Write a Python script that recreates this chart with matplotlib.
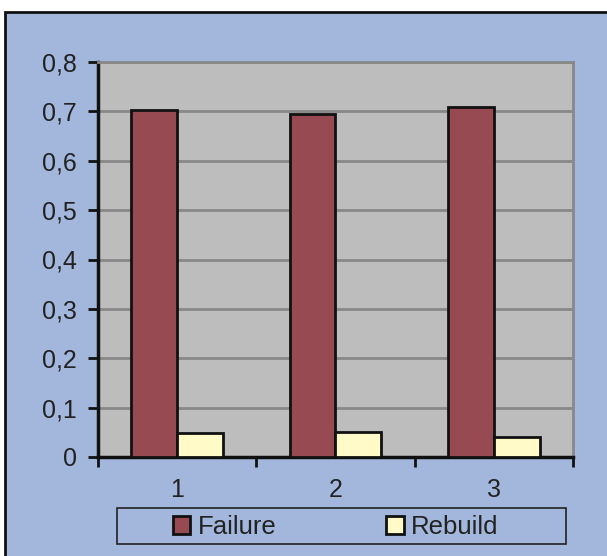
import matplotlib
matplotlib.use("Agg")
import matplotlib.pyplot as plt
import numpy as np
from matplotlib.patches import Rectangle
from matplotlib.ticker import FuncFormatter, FixedLocator

categories = ["1", "2", "3"]
failure = [0.703, 0.695, 0.709]
rebuild = [0.049, 0.051, 0.041]
series_names = ["Failure", "Rebuild"]

plt.rcParams['font.family'] = ['Liberation Sans', 'DejaVu Sans']

W, H = 607, 556
fig = plt.figure(figsize=(W/100, H/100), dpi=100)
fig.patch.set_facecolor("white")

bg = "#A3B7DD"
fig.patches.append(Rectangle((5/W, -0.1), 1, 1.1 - 12/H, transform=fig.transFigure,
                             facecolor=bg, edgecolor="#111111", linewidth=2, zorder=-5))
fig.patches.append(Rectangle((117/W, (H-544)/H), (566-117)/W, 36/H, transform=fig.transFigure,
                             facecolor=bg, edgecolor="#222222", linewidth=1.2, zorder=-4))

ax = fig.add_axes([98/W, (H-457)/H, 475/W, 395/H])
ax.set_zorder(2)
ax.set_facecolor("#BDBDBD")

x = np.arange(len(categories))
w = 0.29
ax.bar(x - w/2, failure, w, color="#984A52", edgecolor="#111111", linewidth=2, label=series_names[0], zorder=3)
ax.bar(x + w/2, rebuild, w, color="#FFFAC8", edgecolor="#111111", linewidth=2, label=series_names[1], zorder=3)

ax.set_xlim(-0.5, len(categories) - 0.5)
ax.set_ylim(0, 0.8)
ax.set_yticks(np.arange(0, 0.81, 0.1))
ax.yaxis.set_major_formatter(FuncFormatter(lambda v, p: "0" if abs(v) < 1e-9 else f"{v:.1f}".replace(".", ",")))
ax.grid(axis="y", color="#888888", linewidth=2, zorder=1)

ax.xaxis.set_major_locator(FixedLocator([-0.5, 0.5, 1.5, 2.5]))
ax.xaxis.set_major_formatter(FuncFormatter(lambda v, p: ""))
ax.xaxis.set_minor_locator(FixedLocator(list(x)))
ax.set_xticklabels(categories, minor=True)
ax.tick_params(axis="x", which="minor", length=0, pad=15, labelsize=18, colors="#222222")
ax.tick_params(axis="x", which="major", length=7, width=2, direction="out", color="#111111")
ax.tick_params(axis="y", length=7, width=2, direction="out", color="#111111", labelsize=18, labelcolor="#222222", pad=8)

for s in ["left", "bottom"]:
    ax.spines[s].set_color("#111111")
    ax.spines[s].set_linewidth(2.5)
for s in ["top", "right"]:
    ax.spines[s].set_color("#888888")
    ax.spines[s].set_linewidth(2)

leg = fig.legend(loc="center left", bbox_to_anchor=(173/W, (H-527)/H),
                 ncol=2, fontsize=18.5, frameon=False,
                 handlelength=0.68, handleheight=0.68, handletextpad=0.3,
                 columnspacing=4.25, borderaxespad=0, borderpad=0)
for t in leg.get_texts():
    t.set_color("#222222")

fig.savefig("out.png", dpi=100)
